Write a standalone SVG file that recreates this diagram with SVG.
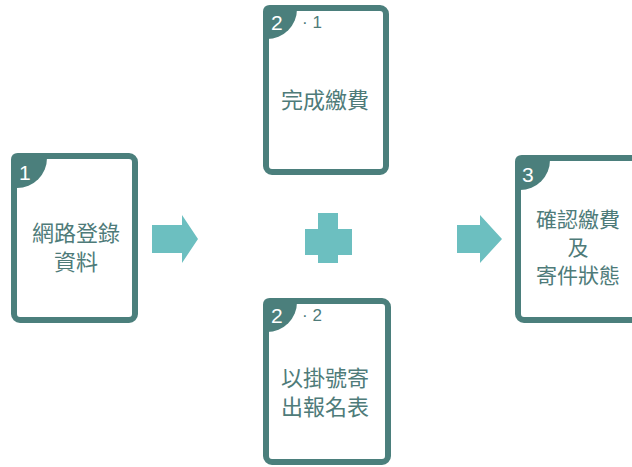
<svg xmlns="http://www.w3.org/2000/svg" width="632" height="467" viewBox="0 0 632 467">
<style>
.card{fill:#fff;stroke:#4b7f7c;stroke-width:6}
.badge{fill:#4b7f7c}
.num{font-family:"Liberation Sans","Noto Sans",sans-serif;font-size:21px;fill:#fff}
.sub{font-family:"Liberation Sans","Noto Sans",sans-serif;font-size:17px;fill:#4e7b79}
.lbl{font-family:"Noto Sans CJK TC","Noto Sans CJK SC",sans-serif;font-size:22px;fill:#4e7b79;text-anchor:middle}
.lbl3{font-size:21px}
.shape{fill:#6cbfc0}
</style>
<rect width="632" height="467" fill="#fff"/>
<g id="node1">
<rect class="card" x="14" y="156" width="121" height="164" rx="6"/>
<path class="badge" d="M11 160 Q11 153 18 153 H47 V158 A30 30 0 0 1 17 188 H11 Z"/>
<text class="num" x="19" y="180">1</text>
<text class="lbl" x="76" y="241">網路登錄</text>
<text class="lbl" x="76" y="270">資料</text>
</g>
<g id="node2-1">
<rect class="card" x="266" y="8" width="120" height="164" rx="6"/>
<path class="badge" d="M263 12 Q263 5 270 5 H297 V9 A30 30 0 0 1 267 39 H263 Z"/>
<text class="num" x="271" y="30">2</text>
<text class="sub" x="302" y="28">· 1</text>
<text class="lbl" x="325" y="108">完成繳費</text>
</g>
<g id="node2-2">
<rect class="card" x="266" y="301" width="122" height="161" rx="6"/>
<path class="badge" d="M263 305 Q263 298 270 298 H297 V302 A30 30 0 0 1 267 332 H263 Z"/>
<text class="num" x="271" y="323">2</text>
<text class="sub" x="302" y="321">· 2</text>
<text class="lbl" x="325" y="386">以掛號寄</text>
<text class="lbl" x="325" y="415">出報名表</text>
</g>
<g id="node3">
<rect class="card" x="518" y="158" width="130" height="162" rx="6"/>
<path class="badge" d="M515 162 Q515 155 522 155 H550 V160 A30 30 0 0 1 520 190 H515 Z"/>
<text class="num" x="522" y="182">3</text>
<text class="lbl lbl3" x="578" y="227">確認繳費</text>
<text class="lbl lbl3" x="578" y="255">及</text>
<text class="lbl lbl3" x="578" y="283">寄件狀態</text>
</g>
<g id="connectors">
<path class="shape" d="M152 225 H182 V215 L198 239 L182 263 V253 H152 Z"/>
<path class="shape" d="M318 213 H338 V229 H352 V255 H338 V263 H318 V255 H305 V229 H318 Z"/>
<path class="shape" d="M457 225 H480 V215 L502 239 L480 263 V253 H457 Z"/>
</g>
</svg>
